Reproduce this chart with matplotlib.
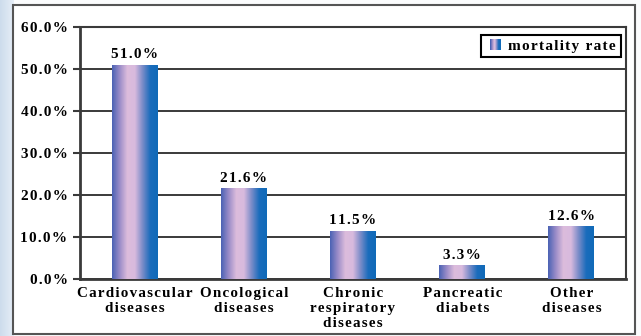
import numpy as np
import matplotlib.pyplot as plt
from matplotlib.patches import Rectangle
from matplotlib.legend_handler import HandlerBase
from matplotlib.colors import LinearSegmentedColormap

# Chart data
categories = ['Cardiovascular\ndiseases', 'Oncological\ndiseases',
              'Chronic\nrespiratory\ndiseases', 'Pancreatic\ndiabets',
              'Other\ndiseases']
mortality = [51.0, 21.6, 11.5, 3.3, 12.6]
y_ticks = [0, 10, 20, 30, 40, 50, 60]
series_name = 'mortality rate'

FONT = 'Liberation Serif'
GRID_COLOR = '#3a3a3a'
BAR_CMAP = LinearSegmentedColormap.from_list(
    'bar', ['#4a62b4', '#9a8cc8', '#dcbcdc', '#d8bade', '#7a8cc8', '#1a6cbc', '#106ab8'])


def spaced(s):
    # widen letter spacing with hair spaces, line by line
    return '\n'.join('\u200a'.join(line) for line in s.split('\n'))


class GradientHandler(HandlerBase):
    # legend key drawn as a row of thin colored stripes
    def create_artists(self, legend, orig_handle, xdescent, ydescent,
                       width, height, fontsize, trans):
        n = 12
        side = height * 1.0
        x0 = xdescent + width - side
        arts = []
        for i in range(n):
            r = Rectangle((x0 + i * side / n, -ydescent),
                          side / n + 0.3, side,
                          facecolor=BAR_CMAP(i / (n - 1)), edgecolor='none',
                          transform=trans)
            arts.append(r)
        return arts


W, H = 641, 336
fig = plt.figure(figsize=(W / 100, H / 100), dpi=100)
fig.patch.set_facecolor('#fbfcfd')

# light blue strip on the left edge
bg = fig.add_axes([0, 0, 14 / W, 1], zorder=-10)
bg.imshow(np.linspace(0, 1, 50)[None, :], extent=[0, 1, 0, 1], aspect='auto',
          cmap=LinearSegmentedColormap.from_list('bg', ['#cddcec', '#e6eef7']))
bg.set_xlim(0, 1)
bg.set_ylim(0, 1)
bg.axis('off')

# outer frame
fig.patches.append(Rectangle((13 / W, 2 / H), (635 - 13) / W, (331 - 2) / H,
                             transform=fig.transFigure, facecolor='white',
                             edgecolor='#555555', lw=1.5, zorder=-5))

ax = fig.add_axes([80 / W, 57 / H, (626 - 80) / W, (279 - 27) / H])
ax.set_facecolor('none')

x = np.arange(len(categories))
bars = ax.bar(x, mortality, width=0.42, color='none', zorder=3,
              label=series_name)

# fill each bar with a horizontal gradient
for b in bars:
    x0, y0 = b.get_x(), b.get_y()
    w, h = b.get_width(), b.get_height()
    im = ax.imshow(np.linspace(0, 1, 256)[None, :], cmap=BAR_CMAP,
                   extent=[x0, x0 + w, y0, y0 + h], aspect='auto', zorder=3)
    im.set_clip_path(b)

for xi, v in zip(x, mortality):
    ax.text(xi, v + 0.8, spaced(f'{v:.1f}%'), ha='center', va='bottom',
            fontsize=11, fontweight='bold', family=FONT, zorder=4)

ax.set_xlim(-0.5, len(categories) - 0.5)
ax.set_ylim(0, 60)
ax.set_yticks(y_ticks)
ax.set_yticklabels([spaced(f'{t:.1f}%') for t in y_ticks], fontsize=11,
                   fontweight='bold', family=FONT)
ax.set_xticks(x)
ax.set_xticklabels([spaced(c) for c in categories], fontsize=10.8,
                   fontweight='bold', family=FONT, linespacing=1.2)
ax.tick_params(axis='x', length=0, pad=6)
ax.tick_params(axis='y', length=5, width=1.5, color=GRID_COLOR, pad=4)
ax.yaxis.grid(True, color=GRID_COLOR, lw=1.4, zorder=1)
ax.set_axisbelow(True)

for side in ['left', 'bottom', 'right', 'top']:
    ax.spines[side].set_color(GRID_COLOR)
    ax.spines[side].set_linewidth(1.5)
ax.spines['left'].set_linewidth(2)
ax.spines['bottom'].set_linewidth(2)

leg = ax.legend(handles=[bars], labels=[spaced(series_name)],
                handler_map={type(bars): GradientHandler()},
                loc='upper right', bbox_to_anchor=(0.99, 0.97),
                frameon=True, fancybox=False, framealpha=1,
                prop={'family': FONT, 'weight': 'bold', 'size': 11},
                handlelength=1.0, handletextpad=0.5, borderpad=0.3,
                borderaxespad=0)
leg.get_frame().set_edgecolor('black')
leg.get_frame().set_linewidth(1.5)
leg.set_zorder(5)

fig.savefig('out.png', dpi=100)
